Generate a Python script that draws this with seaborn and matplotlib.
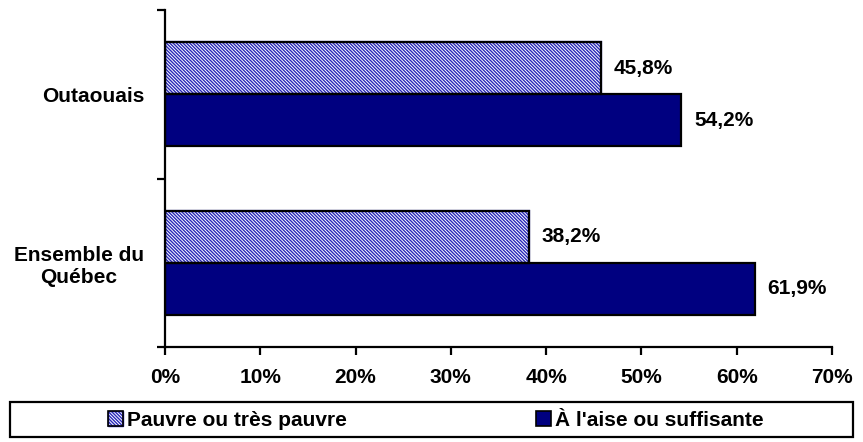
import matplotlib
matplotlib.use("Agg")
import pandas as pd
import matplotlib.pyplot as plt
import matplotlib.patches as mpatches
import seaborn as sns

sns.set_style("white")
plt.rcParams.update({
    "font.family": ["Liberation Sans", "DejaVu Sans"],
    "font.weight": "bold",
    "font.size": 15,
    "text.color": "black",
    "xtick.color": "black",
    "ytick.color": "black",
    "hatch.linewidth": 1.0,
})

# ── data ──────────────────────────────────────────────
regions = ["Outaouais", "Ensemble du\nQuébec"]
groups = ["Pauvre ou très pauvre", "À l'aise ou suffisante"]
pauvre = [45.8, 38.2]
aise = [54.2, 61.9]
x_ticks = [0, 10, 20, 30, 40, 50, 60, 70]

NAVY = "#000080"
HATCH_BLUE = "#2828b8"
HATCH = "\\" * 10
LW = 1.6

df = pd.DataFrame({
    "region": regions * 2,
    "groupe": [groups[0]] * len(regions) + [groups[1]] * len(regions),
    "pct": pauvre + aise,
})

fig = plt.figure(figsize=(8.63, 4.42), dpi=100)
ax = fig.add_axes([165 / 863, 1 - 347 / 442, 667 / 863, 337 / 442])

sns.barplot(data=df, y="region", x="pct", hue="groupe", order=regions,
            hue_order=groups, palette=["white", NAVY], saturation=1,
            orient="h", width=0.62, edgecolor="black", linewidth=LW,
            legend=False, ax=ax)

# hatched bars: hatch follows edge colour, so redraw a black outline on top
for bar in ax.containers[0]:
    bar.set_hatch(HATCH)
    bar.set_edgecolor(HATCH_BLUE)
    ax.add_patch(mpatches.Rectangle((bar.get_x(), bar.get_y()), bar.get_width(),
                                    bar.get_height(), fill=False,
                                    edgecolor="black", linewidth=LW, zorder=3))

for cont in ax.containers:
    labels = [f"{v:.1f}%".replace(".", ",") for v in cont.datavalues]
    ax.bar_label(cont, labels=labels, padding=9, fontweight="bold",
                 fontsize=15, color="black")

ax.set_xlim(0, 70)
ax.set_xticks(x_ticks)
ax.set_xticklabels([f"{t}%" for t in x_ticks])
ax.set_ylim(1.5, -0.5)
ax.set_yticks([-0.5, 0.5, 1.5], minor=True)
ax.set_xlabel("")
ax.set_ylabel("")
for lab in ax.get_yticklabels():
    lab.set_multialignment("center")

sns.despine(ax=ax)
for s in ("left", "bottom"):
    ax.spines[s].set_linewidth(LW)
    ax.spines[s].set_color("black")
ax.tick_params(axis="x", length=6, width=LW, color="black", pad=9,
               labelcolor="black", bottom=True)
ax.tick_params(axis="y", which="major", length=0, pad=15, labelcolor="black")
ax.tick_params(axis="y", which="minor", length=6, width=LW, color="black",
               left=True, direction="out")

# legend
h1 = mpatches.Patch(facecolor="white", edgecolor=HATCH_BLUE, hatch=HATCH)
o1 = mpatches.Patch(facecolor="none", edgecolor="black", linewidth=1.2)
h2 = mpatches.Patch(facecolor=NAVY, edgecolor="black", linewidth=1.2)
fig.legend(handles=[(h1, o1), h2], labels=groups, loc="center left",
           bbox_to_anchor=(108 / 863, 1 - 420 / 442), ncol=2, frameon=False,
           borderpad=0, borderaxespad=0, handlelength=0.7, handleheight=0.7,
           handletextpad=0.2, columnspacing=9.1,
           prop={"weight": "bold", "size": 15})
fig.add_artist(mpatches.Rectangle((10 / 863, 5 / 442), 843 / 863, 35 / 442,
                                  transform=fig.transFigure, fill=False,
                                  edgecolor="black", linewidth=LW))

fig.savefig("out.png", dpi=100)
